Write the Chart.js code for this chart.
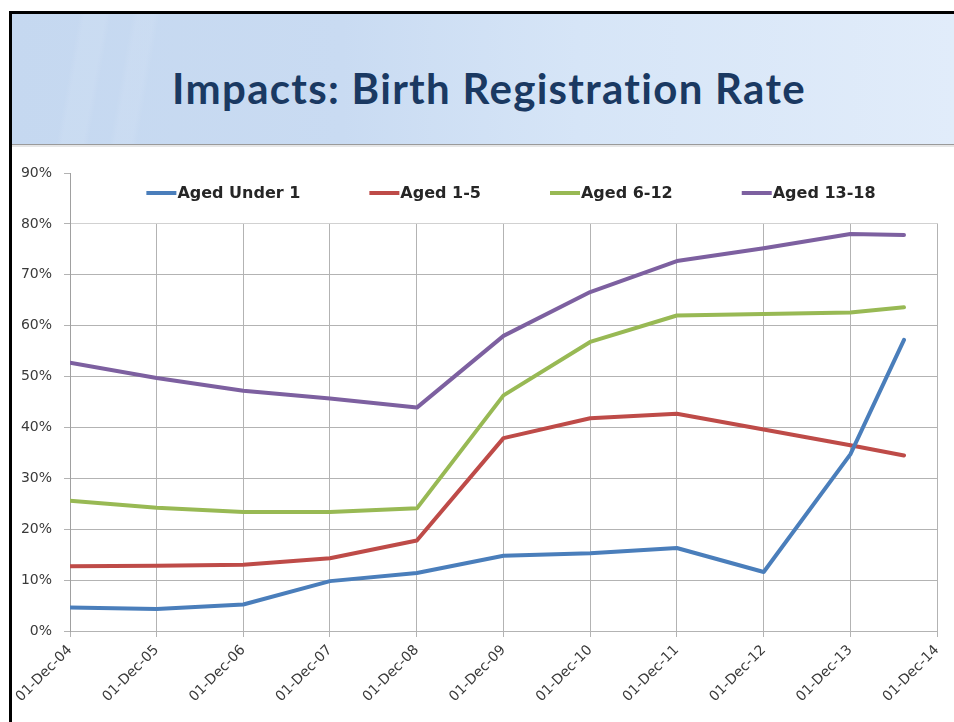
<!DOCTYPE html>
<html>
<head>
<meta charset="utf-8">
<script src="https://cdn.jsdelivr.net/npm/chart.js@4.4.1/dist/chart.umd.min.js"></script>
<style>
  html, body { margin:0; padding:0; background:#fff; width:954px; height:722px; overflow:hidden; }
  #frame { position:absolute; left:9px; top:11px; width:960px; height:730px; border-left:3px solid #000; border-top:3px solid #000; }
  #banner { position:absolute; left:12px; top:14px; width:942px; height:130px;
    background:
      linear-gradient(100deg, rgba(255,255,255,0) 0px, rgba(255,255,255,0) 66px, rgba(255,255,255,0.08) 72px, rgba(255,255,255,0.08) 92px, rgba(255,255,255,0) 98px, rgba(255,255,255,0) 118px, rgba(255,255,255,0.07) 124px, rgba(255,255,255,0.07) 140px, rgba(255,255,255,0) 146px),
      linear-gradient(90deg, #c5d8f0 0%, #c9dbf2 35%, #d6e5f7 60%, #e1ecfa 100%); }
  #rule { position:absolute; left:12px; top:144px; width:942px; height:1px; background:#9a9a9a; }
  #rule2 { position:absolute; left:12px; top:145px; width:942px; height:2px; background:#e6e6e6; }
  #title { position:absolute; left:0; top:64px; width:978px; text-align:center; font-family:Lato, "Open Sans", sans-serif; font-weight:700; font-size:42px; letter-spacing:1.3px; line-height:48px; color:#1a3962; white-space:nowrap; }
  #chartbox { position:absolute; left:12px; top:146px; width:942px; height:576px; }
</style>
</head>
<body>
<div id="frame"></div>
<div id="banner"></div>
<div id="rule"></div>
<div id="rule2"></div>
<div id="title">Impacts: Birth Registration Rate</div>
<div id="chartbox"><canvas id="c" width="942" height="576"></canvas></div>
<script>
// ---- data ----
const tickLabels = ['01-Dec-04','01-Dec-05','01-Dec-06','01-Dec-07','01-Dec-08','01-Dec-09','01-Dec-10','01-Dec-11','01-Dec-12','01-Dec-13','01-Dec-14'];
const tickDates  = ['2004-12-01','2005-12-01','2006-12-01','2007-12-01','2008-12-01','2009-12-01','2010-12-01','2011-12-01','2012-12-01','2013-12-01','2014-12-01'];
const pointDates = ['2004-12-01','2005-12-01','2006-12-01','2007-12-01','2008-12-01','2009-12-01','2010-12-01','2011-12-01','2012-12-01','2013-12-01','2014-07-15'];
const seriesNames = ['Aged Under 1','Aged 1-5','Aged 6-12','Aged 13-18'];
const agedUnder1 = [4.6, 4.3, 5.2, 9.8, 11.4, 14.8, 15.3, 16.3, 11.6, 34.7, 57.2];
const aged1to5   = [12.7, 12.8, 13.0, 14.3, 17.8, 37.9, 41.8, 42.7, 39.6, 36.5, 34.5];
const aged6to12  = [25.6, 24.2, 23.4, 23.4, 24.1, 46.3, 56.8, 62.0, 62.3, 62.6, 63.6];
const aged13to18 = [52.7, 49.7, 47.2, 45.7, 43.9, 58.0, 66.6, 72.7, 75.2, 78.0, 77.8];
const yMin = 0, yMax = 90, yStep = 10;
const legendCutoff = 80; // legend sits above this gridline

const seriesValues = [agedUnder1, aged1to5, aged6to12, aged13to18];
const seriesColors = ['#4a7ebb', '#be4b48', '#98b954', '#7d60a0'];

Chart.defaults.font.family = '"DejaVu Sans", Verdana, sans-serif';

const toPoints = vals => vals.map((v, i) => ({ x: Date.parse(pointDates[i]), y: v }));

const legendPlugin = {
  id: 'insideLegend',
  beforeDatasetsDraw(chart) {
    const { ctx, chartArea } = chart;
    const yS = chart.scales.y;
    const yCut = yS.getPixelForValue(legendCutoff);
    ctx.save();
    ctx.fillStyle = '#fff';
    ctx.fillRect(chartArea.left + 1, chartArea.top - 2, chart.width - chartArea.left, yCut - chartArea.top + 1.5);
    ctx.restore();
  },
  afterDatasetsDraw(chart) {
    const { ctx, chartArea } = chart;
    ctx.save();
    ctx.font = 'bold 16px "DejaVu Sans", Verdana, sans-serif';
    ctx.textBaseline = 'middle';
    const lineW = 30, gap = 70;
    const widths = seriesNames.map(n => lineW + ctx.measureText(n).width);
    const total = widths.reduce((a, b) => a + b, 0) + gap * (seriesNames.length - 1);
    let x = (chartArea.left + chartArea.right) / 2 + 7 - total / 2;
    const y = chartArea.top + 20;
    seriesNames.forEach((n, i) => {
      ctx.strokeStyle = seriesColors[i];
      ctx.lineWidth = 4;
      ctx.beginPath();
      ctx.moveTo(x, y);
      ctx.lineTo(x + lineW, y);
      ctx.stroke();
      ctx.fillStyle = '#262626';
      ctx.fillText(n, x + lineW + 1, y + 1);
      x += widths[i] + gap;
    });
    ctx.restore();
  }
};

new Chart(document.getElementById('c'), {
  type: 'line',
  data: {
    datasets: seriesNames.map((n, i) => ({
      label: n,
      data: toPoints(seriesValues[i]),
      borderColor: seriesColors[i],
      backgroundColor: seriesColors[i],
      borderWidth: 4,
      pointRadius: 0,
      tension: 0,
      borderJoinStyle: 'round',
      borderCapStyle: 'round',
      fill: false
    }))
  },
  options: {
    responsive: false,
    animation: false,
    devicePixelRatio: 1,
    layout: { padding: { top: 27, right: 17, left: 0, bottom: 0 } },
    plugins: { legend: { display: false }, tooltip: { enabled: false }, title: { display: false } },
    scales: {
      x: {
        type: 'linear',
        min: Date.parse(tickDates[0]),
        max: Date.parse(tickDates[tickDates.length - 1]),
        afterBuildTicks: s => { s.ticks = tickDates.map(d => ({ value: Date.parse(d) })); },
        afterFit: s => { s.height = 91; },
        ticks: {
          autoSkip: false, maxRotation: 45, minRotation: 45,
          callback: (v, i) => tickLabels[i],
          color: '#3a3a3a', font: { size: 14 }, padding: 5
        },
        grid: { color: '#b3b3b3', lineWidth: 1, tickLength: 6 },
        border: { color: '#b3b3b3' }
      },
      y: {
        min: yMin, max: yMax,
        afterFit: s => { s.width = 58; },
        ticks: { stepSize: yStep, callback: v => v + '%', color: '#3a3a3a', font: { size: 14 }, padding: 12 },
        grid: { color: '#b3b3b3', lineWidth: 1, tickLength: 6 },
        border: { color: '#a0a0a0' }
      }
    }
  },
  plugins: [legendPlugin]
});
</script>
</body>
</html>
